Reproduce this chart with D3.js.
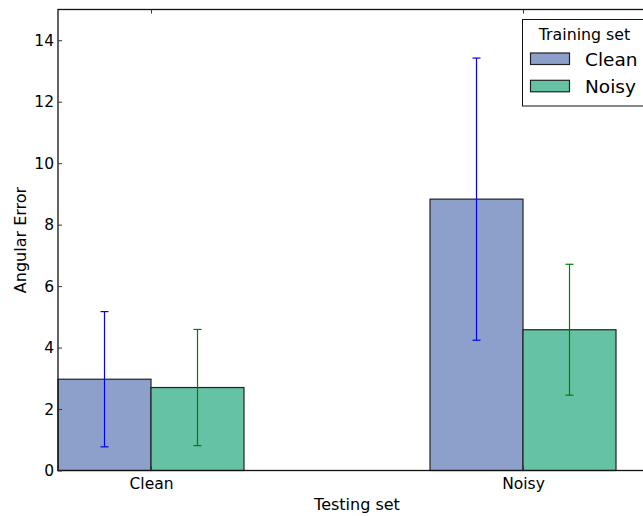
<!DOCTYPE html>
<html><head><meta charset="utf-8">
<script src="https://cdn.jsdelivr.net/npm/d3@7"></script>
<style>body{margin:0;background:#fff}svg{display:block;font-family:"DejaVu Sans",sans-serif}</style>
</head><body>
<script>
const categories = ["Clean", "Noisy"];
const seriesNames = ["Clean", "Noisy"];
const cleanTrainMeans = [2.97, 8.83];
const cleanTrainErr = [2.2, 4.59];
const noisyTrainMeans = [2.70, 4.58];
const noisyTrainErr = [1.89, 2.13];
const yTicks = [0, 2, 4, 6, 8, 10, 12, 14];
const barFill = ["#8da0cb", "#66c2a5"];
const errColor = ["#0000ff", "#008000"];

const W = 643, H = 516;
const m = {left: 58, top: 9.5, right: 656, bottom: 470.5};
const svg = d3.select("body").append("svg").attr("width", W).attr("height", H);

const x = d3.scaleLinear().domain([0, 1.6075]).range([m.left, m.right]);
const y = d3.scaleLinear().domain([0, 15]).range([m.bottom, m.top]);
const width = 0.25;

const series = [
  {means: cleanTrainMeans, err: cleanTrainErr},
  {means: noisyTrainMeans, err: noisyTrainErr}
];

series.forEach((s, si) => {
  const g = svg.append("g");
  g.selectAll("rect").data(s.means).enter().append("rect")
    .attr("x", (d, i) => x(i + si * width))
    .attr("y", d => y(d))
    .attr("width", x(width) - x(0))
    .attr("height", d => y(0) - y(d))
    .attr("fill", barFill[si])
    .attr("stroke", "#222")
    .attr("stroke-width", 1.2);
});
series.forEach((s, si) => {
  const g = svg.append("g").attr("stroke", errColor[si]).attr("stroke-width", 1.2);
  s.means.forEach((d, i) => {
    const cx = x(i + si * width + width / 2);
    g.append("line").attr("x1", cx).attr("x2", cx).attr("y1", y(d - s.err[i])).attr("y2", y(d + s.err[i]));
    [d - s.err[i], d + s.err[i]].forEach(v => {
      g.append("line").attr("x1", cx - 4).attr("x2", cx + 4).attr("y1", y(v)).attr("y2", y(v));
    });
  });
});

// frame
svg.append("rect").attr("x", m.left).attr("y", m.top).attr("width", m.right - m.left).attr("height", m.bottom - m.top)
  .attr("fill", "none").attr("stroke", "#111").attr("stroke-width", 1.3);

// y axis (inward ticks)
const yAxis = d3.axisLeft(y).tickValues(yTicks).tickSize(-4).tickPadding(4).tickFormat(d3.format("d"));
const ya = svg.append("g").attr("transform", `translate(${m.left},0)`).call(yAxis);
ya.select(".domain").remove();
ya.selectAll("text").attr("font-size", 15.5).attr("fill", "#000").attr("font-family", "DejaVu Sans");
ya.selectAll("line").attr("stroke", "#333");

// x axis
const tickPos = categories.map((c, i) => i + width);
const xAxis = d3.axisBottom(x).tickValues(tickPos).tickSize(-4).tickPadding(7.5).tickFormat((d, i) => categories[i]);
const xa = svg.append("g").attr("transform", `translate(0,${m.bottom})`).call(xAxis);
xa.select(".domain").remove();
xa.selectAll("text").attr("font-size", 15.5).attr("fill", "#000").attr("font-family", "DejaVu Sans");
xa.selectAll("line").attr("stroke", "#333");
// top ticks
const xTop = d3.axisTop(x).tickValues(tickPos).tickSize(-4).tickFormat("");
const xt = svg.append("g").attr("transform", `translate(0,${m.top})`).call(xTop);
xt.select(".domain").remove();
xt.selectAll("line").attr("stroke", "#333");

// axis labels
svg.append("text").attr("x", (m.left + m.right) / 2).attr("y", 510).attr("text-anchor", "middle")
  .attr("font-size", 16).text("Testing set");
svg.append("text").attr("transform", `translate(26,${(m.top + m.bottom) / 2}) rotate(-90)`).attr("text-anchor", "middle")
  .attr("font-size", 16).text("Angular Error");

// legend
const lg = svg.append("g");
lg.append("rect").attr("x", 522.5).attr("y", 19.5).attr("width", 127).attr("height", 86.5)
  .attr("fill", "#fff").attr("stroke", "#111").attr("stroke-width", 1);
lg.append("text").attr("x", 584.5).attr("y", 39.5).attr("text-anchor", "middle").attr("font-size", 15.8).text("Training set");
seriesNames.forEach((n, i) => {
  const yy = 53 + i * 27.3;
  lg.append("rect").attr("x", 530.5).attr("y", yy).attr("width", 39).attr("height", 11.5)
    .attr("fill", barFill[i]).attr("stroke", "#222").attr("stroke-width", 1.2);
  lg.append("text").attr("x", 585).attr("y", yy + 13).attr("font-size", 18.5).text(n);
});
</script>
</body></html>
